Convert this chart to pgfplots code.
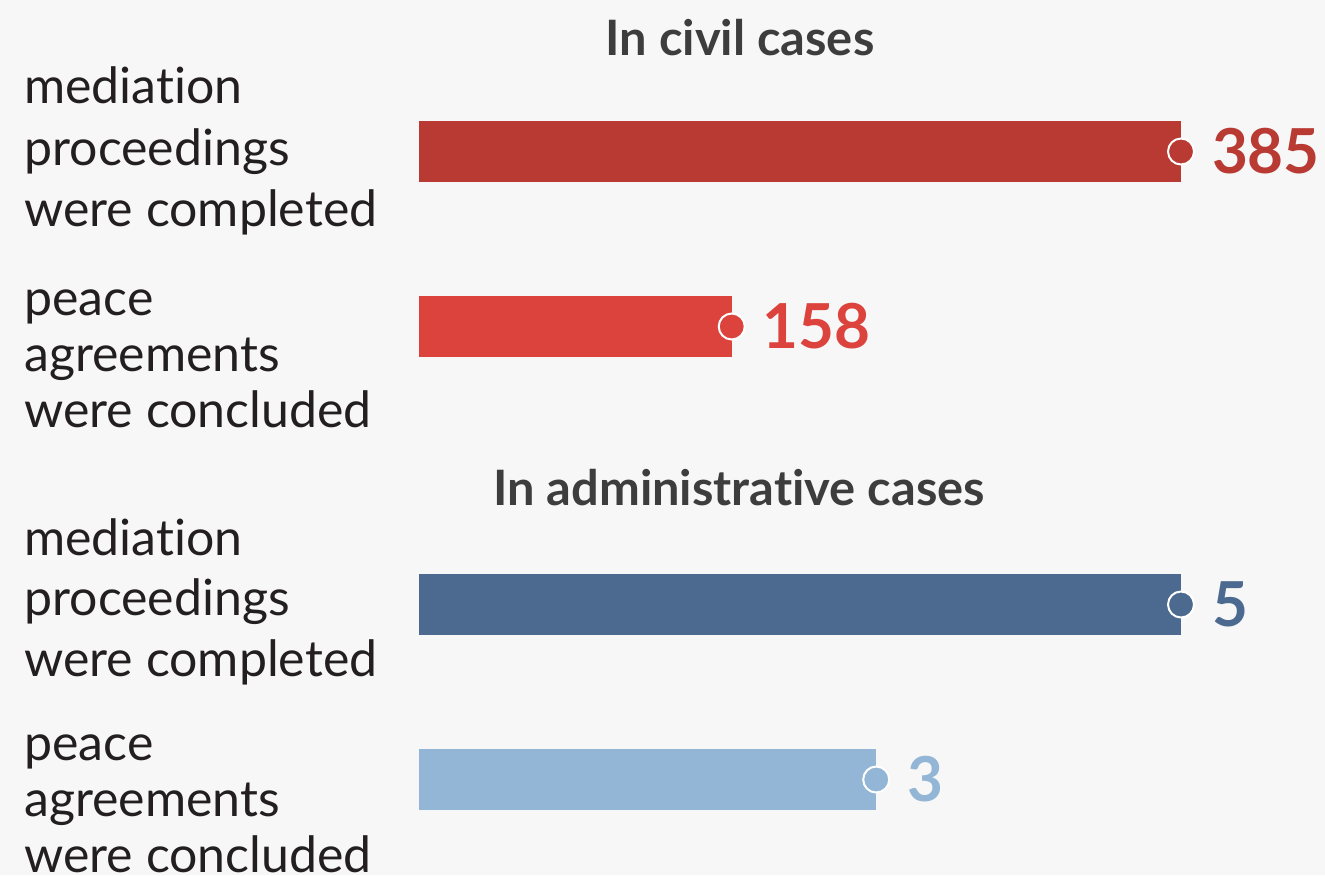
\documentclass[border=0pt]{standalone}
\usepackage{fontspec}
\setmainfont{Lato}[Ligatures={TeX,NoCommon}]
\usepackage{pgfplots}
\pgfplotsset{compat=1.18}

\definecolor{bgc}{HTML}{F7F7F7}
\definecolor{labc}{HTML}{231F20}
\definecolor{titc}{HTML}{3D3D3D}
\definecolor{cA}{HTML}{B83A33}
\definecolor{cB}{HTML}{DB433C}
\definecolor{cC}{HTML}{4C6A90}
\definecolor{cD}{HTML}{93B6D6}

% 1 px of the reference = 0.5pt
\newcommand\lblfont{\fontsize{25}{30}\selectfont}
\newcommand\titfont{\bfseries\fontsize{24.4}{30}\selectfont}
\newcommand\lab[2]{\node[anchor=base west, inner sep=0, font=\lblfont, text=labc] at (12pt,-#1*0.5pt) {#2};}

\pgfplotsset{
  barax/.style={
    scale only axis, width=381pt, height=140pt,
    hide axis, clip=false, y dir=reverse,
    xmin=0, anchor=north west,
  },
  bar/.style={xbar, bar shift=0pt, bar width=30.5pt, draw=none, fill=#1},
  dot/.style={only marks, mark=*, mark size=6.5pt,
    mark options={fill=#1, draw=white, line width=1pt},
    point meta=x, nodes near coords, nodes near coords align=horizontal,
    /pgf/number format/assume math mode=true,
    nodes near coords style={anchor=west, inner sep=0pt, xshift=15pt, text=#1,
      font=\bfseries\fontsize{31}{32}\selectfont}},
}

\begin{document}
\begin{tikzpicture}
\fill[bgc] (0,0) rectangle (662.5pt,-437.5pt);
\useasboundingbox (0,0) rectangle (662.5pt,-437.5pt);

\node[anchor=base, inner sep=0, text=titc, font=\titfont] at (370pt,-27.5pt) {In civil cases};
\node[anchor=base, inner sep=0, text=titc, font=\titfont] at (369.5pt,-252.5pt) {In administrative cases};

\lab{103}{mediation}
\lab{165}{proceedings}
\lab{226}{were completed}
\lab{315}{peace}
\lab{371}{agreements}
\lab{427}{were concluded}
\lab{555}{mediation}
\lab{615}{proceedings}
\lab{676}{were completed}
\lab{760}{peace}
\lab{816}{agreements}
\lab{872}{were concluded}

\begin{axis}[barax, at={(209.5pt,-50pt)}, xmax=385, ymin=100, ymax=380]
\addplot[bar=cA] coordinates {(385,151.5)};
\addplot[bar=cB] coordinates {(158,326.5)};
\addplot[dot=cA] coordinates {(385,151.5)};
\addplot[dot=cB] coordinates {(158,326.5)};
\end{axis}

\begin{axis}[barax, at={(209.5pt,-280pt)}, xmax=5, ymin=560, ymax=840]
\addplot[bar=cC] coordinates {(5,604.5)};
\addplot[bar=cD] coordinates {(3,779.5)};
\addplot[dot=cC] coordinates {(5,604.5)};
\addplot[dot=cD] coordinates {(3,779.5)};
\end{axis}
\end{tikzpicture}
\end{document}
